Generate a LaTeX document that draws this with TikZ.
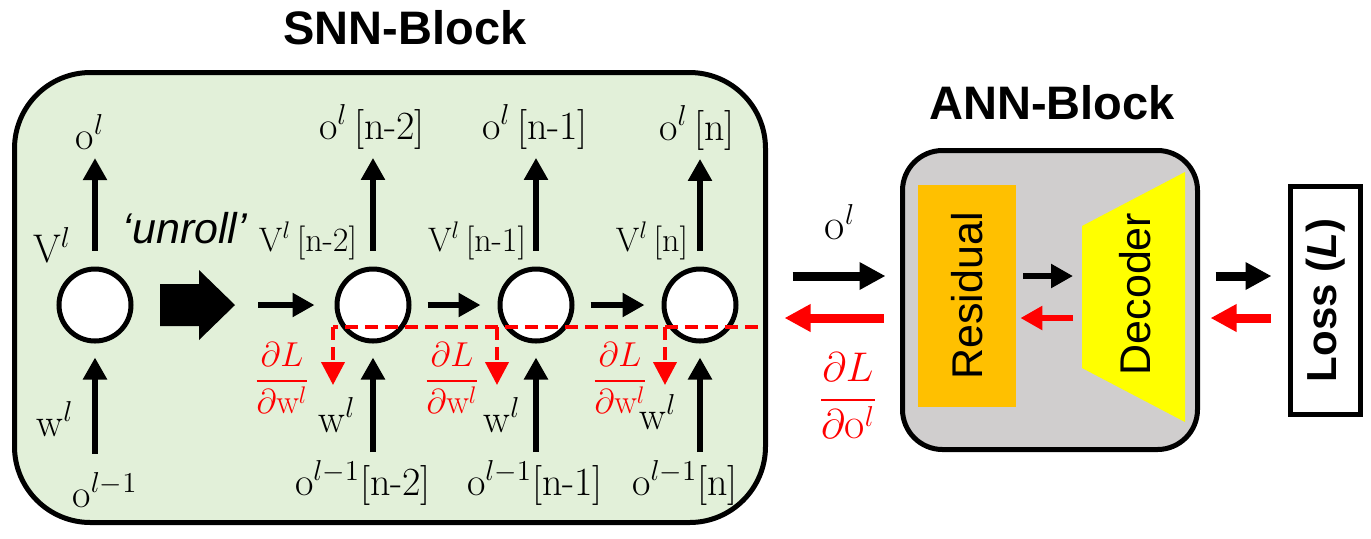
\documentclass[tikz,border=0pt]{standalone}
\usepackage{amsmath, amssymb}
\usepackage{fontspec}
\newfontfamily\arialfont{Liberation Sans}
\usepackage{tikz}
\usetikzlibrary{arrows.meta, positioning, calc}

\definecolor{snngreen}{HTML}{E2F0D9}
\definecolor{anngray}{HTML}{D0CECE}
\definecolor{resorange}{HTML}{FFC000}
\definecolor{decyellow}{HTML}{FFFF00}

\begin{document}
\begin{tikzpicture}[x=0.5pt, y=-0.5pt,
    neuron/.style={circle, draw, line width=2.5pt, fill=white, minimum size=36pt, inner sep=0pt},
    lbl/.style={font=\fontsize{20}{24}\selectfont, inner sep=1pt},
    vlbl/.style={font=\fontsize{17}{20}\selectfont, inner sep=1pt},
    grad/.style={red, font=\fontsize{17}{20}\selectfont, inner sep=0pt},
    title/.style={font=\arialfont\bfseries\fontsize{23.5}{28}\selectfont},
    sans/.style={font=\arialfont\fontsize{21.5}{26}\selectfont},
    arr/.style={-{Triangle[width=11.5pt, length=11pt]}, line width=2.7pt},
    bigarr/.style={-{Triangle[width=13pt, length=13pt]}, line width=4.5pt},
    reddash/.style={red, line width=2pt, dash pattern=on 6.5pt off 3.5pt},
    ]
    \useasboundingbox (0,0) rectangle (1371,538);

    % SNN block
    \node[draw, line width=2.5pt, fill=snngreen, rounded corners=38pt, inner sep=0pt,
          minimum width=375.5pt, minimum height=225pt] (snn) at (390,297.5) {};
    \node[title] (snnt) at (405,28) {SNN-Block};

    % folded neuron
    \node[neuron] (n0) at (95,305) {};
    \node[lbl] (ol0) at (90,132) {$\mathrm{o}^{l}$};
    \node[lbl] (vl0) at (52,245) {$\mathrm{V}^{l}$};
    \node[lbl] (wl0) at (55,419) {$\mathrm{w}^{l}$};
    \node[lbl] (il0) at (105,490) {$\mathrm{o}^{l-1}$};
    \draw[arr, shorten <=8pt, shorten >=3pt] (n0.north) -- (n0 |- ol0.south);
    \draw[arr, shorten <=8pt, shorten >=7pt] (n0 |- il0.north) -- (n0.south);

    % unroll
    \node[font=\arialfont\itshape\fontsize{21.5}{26}\selectfont] (unr) at (185,228) {‘unroll’};
    \fill (160,284) -- (199,284) -- (199,270) -- (235,305) -- (199,340) -- (199,326) -- (160,326) -- cycle;
    \coordinate (utip) at (235,305);

    % unrolled neurons
    \node[neuron] (n1) at (373,305) {};
    \node[neuron] (n2) at (536,305) {};
    \node[neuron] (n3) at (700,305) {};

    \node[lbl] (ol1) at (372,127) {$\mathrm{o}^{l}$\,[n-2]};
    \node[lbl] (ol2) at (535,127) {$\mathrm{o}^{l}$\,[n-1]};
    \node[lbl] (ol3) at (697,128) {$\mathrm{o}^{l}$\,[n]};
    \node[vlbl] (vl1) at (308,241) {$\mathrm{V}^{l}$\,[n-2]};
    \node[vlbl] (vl2) at (477,241) {$\mathrm{V}^{l}$\,[n-1]};
    \node[vlbl] (vl3) at (652,241) {$\mathrm{V}^{l}$\,[n]};
    \node[lbl] (wl1) at (337,415) {$\mathrm{w}^{l}$};
    \node[lbl] (wl2) at (502,415) {$\mathrm{w}^{l}$};
    \node[lbl] (wl3) at (658,412) {$\mathrm{w}^{l}$};
    \node[lbl] (il1) at (363,483) {$\mathrm{o}^{l-1}$[n-2]};
    \node[lbl] (il2) at (535,483) {$\mathrm{o}^{l-1}$[n-1]};
    \node[lbl] (il3) at (685,483) {$\mathrm{o}^{l-1}$[n]};

    \draw[arr, shorten <=11.5pt, shorten >=10pt] (utip) -- (n1);
    \draw[arr, shorten <=8pt, shorten >=8.5pt] (n1) -- (n2);
    \draw[arr, shorten <=8pt, shorten >=8.5pt] (n2) -- (n3);
    \foreach \i in {1,2,3} {
        \draw[arr, shorten <=8pt, shorten >=3pt] (n\i.north) -- (n\i |- ol\i.south);
        \draw[arr, shorten <=3pt, shorten >=7pt] (n\i |- il\i.north) -- (n\i.south);
    }

    % gradients w.r.t. weights
    \node[grad] (gw1) at (282,378) {$\dfrac{\partial L}{\partial \mathrm{w}^{l}}$};
    \node[grad] (gw2) at (452,378) {$\dfrac{\partial L}{\partial \mathrm{w}^{l}}$};
    \node[grad] (gw3) at (620,378) {$\dfrac{\partial L}{\partial \mathrm{w}^{l}}$};
    \coordinate (gin) at (758,327);
    \coordinate (d1) at (333,385);
    \coordinate (d2) at (497,385);
    \coordinate (d3) at (665,385);
    \draw[reddash] (gin) -- (gin -| d1);
    \foreach \i in {1,2,3}
        \draw[reddash, -{Triangle[width=11.5pt, length=11.5pt]}] (gin -| d\i) -- (d\i);

    % ANN block
    \node[draw, line width=2.5pt, fill=anngray, rounded corners=20pt, inner sep=0pt,
          minimum width=147.5pt, minimum height=149.5pt] (ann) at (1050,300) {};
    \node[title] (annt) at (1052,103) {ANN-Block};
    \node[fill=resorange, minimum width=49pt, minimum height=111pt, inner sep=0pt,
          sans] (res) at (967,296) {\rotatebox{90}{Residual}};
    \fill[decyellow] (1082,226) -- (1185,172) -- (1185,422) -- (1082,368) -- cycle;
    \node[sans] (dec) at (1135,294) {\rotatebox{90}{Decoder}};
    \coordinate (decin) at (1082,297);

    % loss
    \node[draw, line width=2.5pt, fill=white, minimum width=35pt, minimum height=114pt, inner sep=0pt,
          font=\arialfont\bfseries\fontsize{21}{25}\selectfont] (loss) at (1325.5,300.5)
          {\rotatebox{90}{Loss (\textit{L})}};

    % forward / backward rows
    \coordinate (fwd) at (0,276);
    \coordinate (bwd) at (0,318);
    \node[lbl, font=\fontsize{22}{26}\selectfont] (olA) at (840,222) {$\mathrm{o}^{l}$};
    \node[grad, font=\fontsize{22}{26}\selectfont] (go) at (848,396) {$\dfrac{\partial L}{\partial \mathrm{o}^{l}}$};
    \draw[bigarr, shorten <=12.25pt, shorten >=7.25pt] (snn.east |- fwd) -- (ann.west |- fwd);
    \draw[bigarr, red, shorten <=8.25pt, shorten >=8.25pt] (ann.west |- bwd) -- (snn.east |- bwd);
    \draw[arr, shorten <=3.5pt, shorten >=4.5pt] (res.east |- fwd) -- (decin |- fwd);
    \draw[arr, red, shorten <=4.5pt, shorten >=2pt] (decin |- bwd) -- (res.east |- bwd);
    \draw[bigarr, shorten <=7.75pt, shorten >=8.25pt] (ann.east |- fwd) -- (loss.west |- fwd);
    \draw[bigarr, red, shorten <=8.75pt, shorten >=5.25pt] (loss.west |- bwd) -- (ann.east |- bwd);
\end{tikzpicture}
\end{document}
